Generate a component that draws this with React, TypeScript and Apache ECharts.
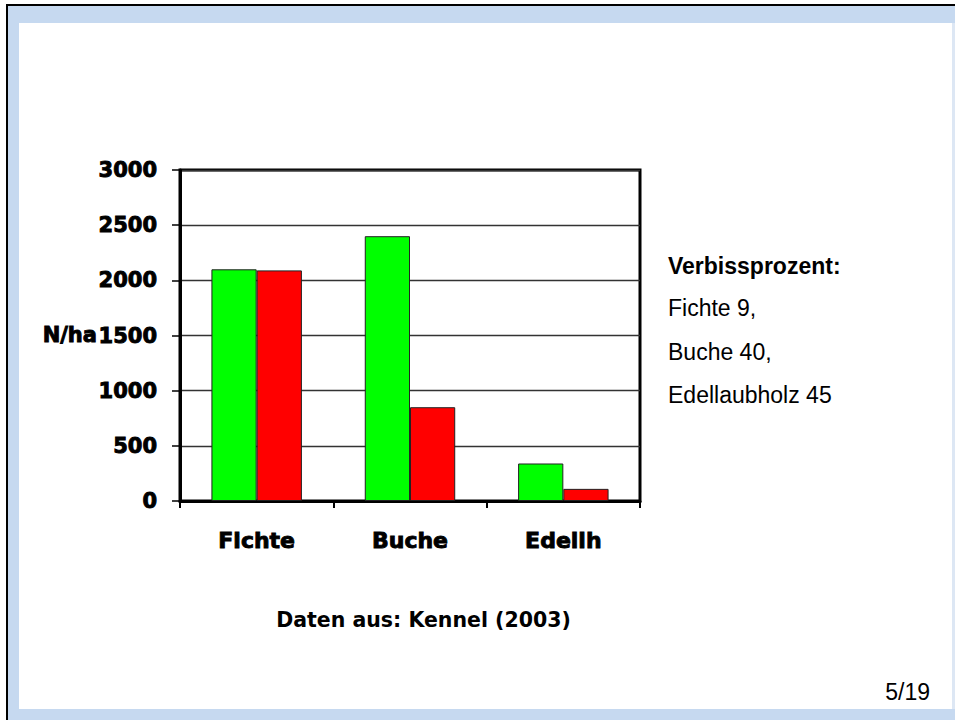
import React, { useEffect, useRef } from "react";
import * as echarts from "echarts";

const categories = ["Fichte", "Buche", "Edellh"];
const greenValues = [2100, 2400, 340];
const redValues = [2090, 850, 110];
const yTicks = { min: 0, max: 3000, interval: 500 };
const yName = "N/ha";
const sideTitle = "Verbissprozent:";
const sideLines = ["Fichte 9,", "Buche 40,", "Edellaubholz 45"];
const sourceText = "Daten aus: Kennel (2003)";
const pageText = "5/19";

export default function App() {
  const ref = useRef<HTMLDivElement>(null);

  useEffect(() => {
    if (!ref.current) return;
    const chart = echarts.init(ref.current, undefined, { renderer: "svg" });
    const boldFont = "DejaVu Sans";
    const sideYs = [308, 352, 395];
    chart.setOption({
      animation: false,
      backgroundColor: "transparent",
      grid: {
        left: 180,
        top: 170,
        right: 315,
        bottom: 219,
        show: true,
        borderColor: "#000",
        borderWidth: 3,
        backgroundColor: "transparent",
      },
      xAxis: {
        type: "category",
        data: categories,
        axisLine: { show: true, lineStyle: { color: "#000", width: 3 } },
        axisTick: { show: true, length: 7, lineStyle: { color: "#000", width: 2 } },
        axisLabel: {
          color: "#000",
          fontFamily: boldFont,
          fontWeight: "bold",
          fontSize: 22,
          margin: 28,
          textBorderColor: "#000",
          textBorderWidth: 0.9,
        },
        splitLine: { show: false },
      },
      yAxis: {
        type: "value",
        min: yTicks.min,
        max: yTicks.max,
        interval: yTicks.interval,
        axisLine: { show: true, lineStyle: { color: "#000", width: 3 } },
        axisTick: { show: true, length: 8, lineStyle: { color: "#000", width: 1.5 } },
        axisLabel: {
          color: "#000",
          fontFamily: boldFont,
          fontWeight: "bold",
          fontSize: 21,
          margin: 23,
          textBorderColor: "#000",
          textBorderWidth: 0.9,
          formatter: (v: number) => String(v),
        },
        splitLine: { show: true, lineStyle: { color: "#333", width: 1.3 } },
      },
      series: [
        {
          type: "bar",
          data: greenValues,
          barGap: "0%",
          barCategoryGap: "41%",
          itemStyle: { color: "#00FF00", borderColor: "#222", borderWidth: 1 },
        },
        {
          type: "bar",
          data: redValues,
          barGap: "0%",
          barCategoryGap: "41%",
          itemStyle: { color: "#FF0000", borderColor: "#222", borderWidth: 1 },
        },
      ],
      graphic: [
        {
          type: "text",
          x: 97,
          y: 335,
          style: {
            text: yName,
            fill: "#000",
            stroke: "#000",
            lineWidth: 0.9,
            font: `bold 21px "${boldFont}"`,
            align: "right",
            verticalAlign: "middle",
          },
        },
        {
          type: "text",
          x: 668,
          y: 266,
          style: {
            text: sideTitle,
            fill: "#000",
            font: 'bold 23px "Liberation Sans"',
            align: "left",
            verticalAlign: "middle",
          },
        },
        ...sideLines.map((t, i) => ({
          type: "text",
          x: 668,
          y: sideYs[i],
          style: {
            text: t,
            fill: "#000",
            font: '23px "Liberation Sans"',
            align: "left",
            verticalAlign: "middle",
          },
        })),
        {
          type: "text",
          x: 423.5,
          y: 620,
          style: {
            text: sourceText,
            fill: "#000",
            font: `bold 20.5px "${boldFont}"`,
            align: "center",
            verticalAlign: "middle",
          },
        },
        {
          type: "text",
          x: 930,
          y: 692,
          style: {
            text: pageText,
            fill: "#000",
            font: '23px "Liberation Sans"',
            align: "right",
            verticalAlign: "middle",
          },
        },
      ],
    });
    return () => chart.dispose();
  }, []);

  return (
    <div style={{ position: "fixed", left: 0, top: 0, width: 955, height: 720, background: "#fff", overflow: "hidden" }}>
      <div style={{ position: "absolute", left: 6, top: 4, width: 949, height: 716, background: "#000" }} />
      <div style={{ position: "absolute", left: 8, top: 6, width: 947, height: 714, background: "#C6D9F0" }} />
      <div style={{ position: "absolute", left: 952, top: 23, width: 3, height: 686, background: "#DDE7F4" }} />
      <div style={{ position: "absolute", left: 19, top: 23, width: 933, height: 686, background: "#fff" }} />
      <div ref={ref} style={{ position: "absolute", left: 0, top: 0, width: 955, height: 720 }} />
    </div>
  );
}
